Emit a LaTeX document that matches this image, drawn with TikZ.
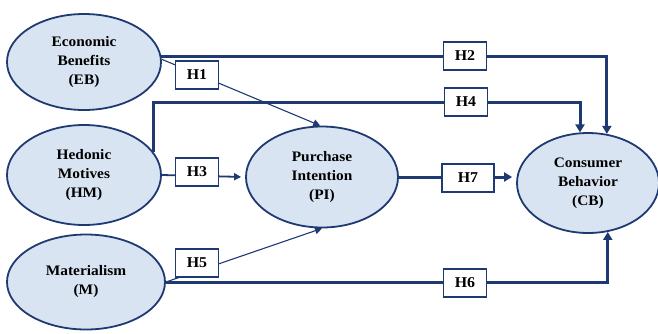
\documentclass[tikz,border=0pt]{standalone}
\usepackage{fontspec}
\setmainfont[FakeStretch=1.06]{Liberation Serif}
\usetikzlibrary{shapes.geometric,arrows.meta}
\definecolor{navy}{HTML}{1F3A73}
\definecolor{fillblue}{HTML}{D9E4F2}
\begin{document}
\begin{tikzpicture}[x=1pt,y=-1pt,
  latent/.style={ellipse, draw=navy, line width=1.8pt, fill=fillblue, inner sep=0pt, align=center,
    font=\fontsize{14.5}{19}\selectfont\bfseries},
  hyp/.style={draw=navy, line width=1.2pt, fill=white, minimum width=43pt, minimum height=28pt,
    inner sep=0pt, font=\fontsize{15}{18}\selectfont\bfseries},
  thickline/.style={draw=navy, line width=3pt},
  medline/.style={draw=navy, line width=1.8pt},
  thinline/.style={draw=navy, line width=1.1pt},
  bigtip/.style={-{Triangle[length=8pt,width=9pt]}},
  smalltip/.style={-{Triangle[length=7pt,width=7pt]}}]
\useasboundingbox (0,0) rectangle (658,333);

% latent variables
\node[latent, minimum width=154pt, minimum height=96pt] (EB) at (84,62) {Economic\\Benefits\\(EB)};
\node[latent, minimum width=154pt, minimum height=100pt] (HM) at (84,175) {Hedonic\\Motives\\(HM)};
\node[latent, minimum width=158pt, minimum height=95pt] (M) at (86,282) {Materialism\\(M)};
\node[latent, minimum width=152pt, minimum height=101pt] (PI) at (322,177) {Purchase\\Intention\\(PI)};
\node[latent, minimum width=142pt, minimum height=100pt] (CB) at (588,183) {Consumer\\Behavior\\(CB)};

\coordinate (h4y) at (0,102);

% connectors
\draw[thickline, bigtip] (EB.4.5) -| (CB.69.4);
\draw[thickline, bigtip] (HM.18) -- (HM.18 |- h4y) -| (CB.99);
\draw[thinline, smalltip] (EB.2) -- (PI.92);
\draw[medline, smalltip, shorten >=4pt] (HM.east) -- (PI.west);
\draw[thinline, smalltip] (M.east) -- (PI.-90);
\draw[thickline, bigtip] (M.east) -| (CB.-68.4);
\draw[thickline, bigtip, shorten >=4pt] (PI.east) -- (PI.east -| CB.west);

% hypothesis labels
\node[hyp] (H1) at (197,75) {H1};
\node[hyp] (H2) at (465,56) {H2};
\node[hyp] (H3) at (197,172) {H3};
\node[hyp] (H4) at (466,102) {H4};
\node[hyp] (H5) at (197,263) {H5};
\node[hyp] (H6) at (465,283) {H6};
\node[hyp, minimum width=52pt] (H7) at (468,178) {H7};
\end{tikzpicture}
\end{document}
